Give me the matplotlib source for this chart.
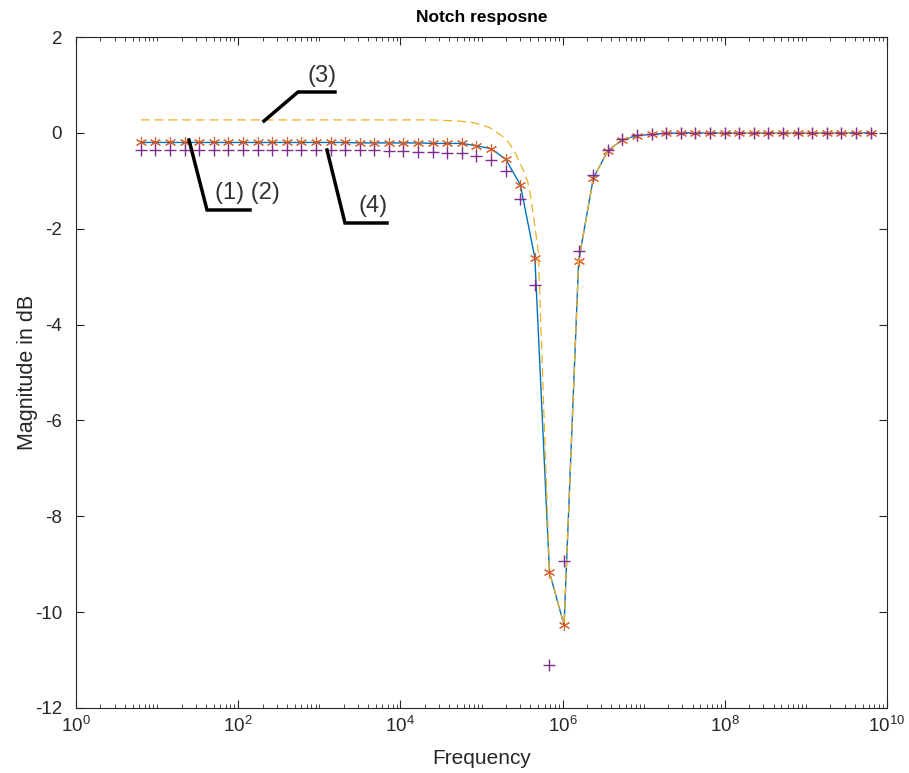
import matplotlib
matplotlib.use('Agg')
import matplotlib.pyplot as plt
import matplotlib.ticker as mticker
from matplotlib.lines import Line2D
import numpy as np

plt.rcParams['font.family'] = ['Liberation Sans', 'DejaVu Sans']
plt.rcParams['mathtext.fontset'] = 'custom'
plt.rcParams['mathtext.rm'] = 'Liberation Sans'
plt.rcParams['axes.unicode_minus'] = False

# sample grid: 51 points, 2*pi*logspace(0, 9, 51)
freq = 2 * np.pi * np.logspace(0, 9, 51)

# (1) line and (2) asterisks share the same values
mag_12 = [-0.20] * 15 + [-0.21] * 5 + [-0.22] * 3 + [
    -0.27, -0.33, -0.55, -1.08, -2.61, -9.17, -10.27, -2.67, -0.95,
    -0.37, -0.14, -0.06, -0.03, -0.01] + [0.0] * 14

# (4) plus markers
mag_4 = [-0.36] * 17 + [
    -0.37, -0.38, -0.39, -0.40, -0.42, -0.43, -0.48, -0.57, -0.80, -1.39,
    -3.18, -11.10, -8.93, -2.46, -0.88, -0.36, -0.13, -0.05, -0.02,
    -0.01] + [0.0] * 14

# (3) dashed curve
dashed_logf = [0.80, 4.38, 4.70, 4.91, 5.10, 5.25, 5.33, 5.40, 5.46, 5.52,
               5.57, 5.61, 5.65, 5.70]
dashed_mag = [0.27, 0.27, 0.25, 0.21, 0.11, -0.06, -0.19, -0.36, -0.58,
              -0.80, -1.02, -1.36, -1.85, -2.47]
dashed_freq = list(10 ** np.array(dashed_logf)) + list(freq[28:])
dashed_mag = dashed_mag + mag_12[28:]

C_BLUE = (0.0, 0.447, 0.741)
C_ORANGE = (0.85, 0.325, 0.098)
C_YELLOW = (0.929, 0.694, 0.125)
C_PURPLE = (0.494, 0.184, 0.556)
C_AX = (0.15, 0.15, 0.15)

W, H = 909, 773
fig = plt.figure(figsize=(W / 100, H / 100), dpi=100)
ax = fig.add_axes([76 / W, 1 - 708 / H, (887 - 76) / W, (708 - 37) / H])

ax.semilogx(freq, mag_12, '-', color=C_BLUE, lw=1.0)
ax.semilogx(freq, mag_12, ls='none', marker=(6, 2, 0), ms=8, mew=0.8,
            color=C_ORANGE, alpha=0.9)
ax.semilogx(dashed_freq, dashed_mag, '--', color=C_YELLOW, lw=0.9,
            dashes=(7, 4))
ax.semilogx(freq, mag_4, ls='none', marker='+', ms=9, mew=1.0,
            color=C_PURPLE)

ax.set_xlim(1, 1e10)
ax.set_ylim(-12, 2)
ax.xaxis.set_major_locator(mticker.FixedLocator([10.0 ** k for k in range(0, 11, 2)]))
ax.xaxis.set_major_formatter(mticker.LogFormatterSciNotation())
ax.xaxis.set_minor_locator(mticker.LogLocator(base=10, subs=np.arange(1, 10), numticks=100))
ax.xaxis.set_minor_formatter(mticker.NullFormatter())
ax.set_yticks(np.arange(-12, 3, 2))

ax.tick_params(which='both', direction='in', top=True, right=True,
               colors=C_AX, labelsize=13.5)
ax.tick_params(axis='y', pad=10)
ax.tick_params(axis='x', pad=6)
ax.tick_params(which='major', length=6, width=0.8)
ax.tick_params(which='minor', length=3, width=0.6)
for s in ax.spines.values():
    s.set_color(C_AX)
    s.set_linewidth(0.8)

ax.set_title('Notch resposne', fontsize=12.5, fontweight='bold', color='k', pad=11)
ax.set_xlabel('Frequency', fontsize=15, color=C_AX, labelpad=9)
ax.set_ylabel('Magnitude in dB', fontsize=15.5, color=C_AX, labelpad=-2)


def fig_line(pts):
    xs = [p[0] / W for p in pts]
    ys = [1 - p[1] / H for p in pts]
    fig.add_artist(Line2D(xs, ys, transform=fig.transFigure, color='k', lw=2.5,
                          solid_joinstyle='miter'))


def fig_text(x, y, s):
    fig.text(x / W, 1 - y / H, s, ha='center', va='center', fontsize=17,
             color=(0.2, 0.2, 0.2))


# annotation callouts
fig_line([(264, 121), (298, 92), (335, 92)])
fig_text(322, 76, '(3)')
fig_line([(189, 140), (207, 210), (250, 210)])
fig_text(247, 193, '(1) (2)')
fig_line([(327, 150), (345, 223), (387, 223)])
fig_text(373, 206, '(4)')

fig.savefig('out.png', dpi=100, facecolor='white')
